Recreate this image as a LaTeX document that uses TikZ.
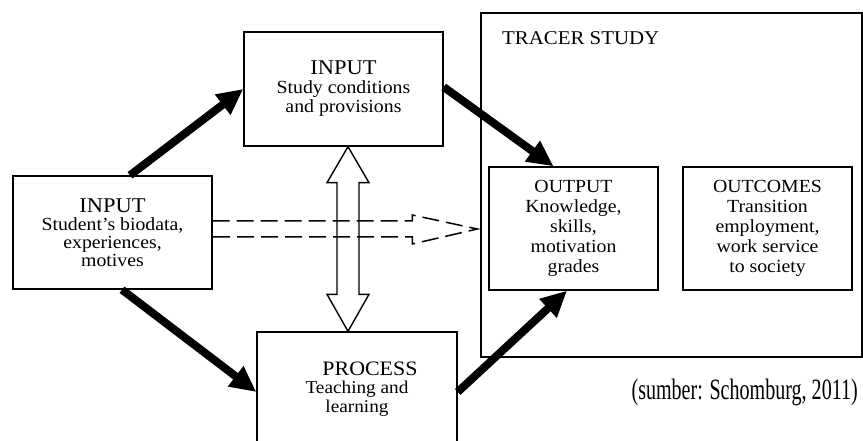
\documentclass[tikz,border=0pt]{standalone}
\usepackage{fontspec}
\setmainfont{Liberation Serif}
\newfontfamily\dfont{Liberation Serif}[FakeStretch=1.07]
\newfontfamily\srcfont{Liberation Serif}[FakeStretch=0.68]
\usetikzlibrary{arrows.meta,calc}
\begin{document}
\begin{tikzpicture}[x=1pt,y=-1pt,
  box/.style={draw, line width=1.4pt, inner sep=0pt, align=center},
  bodyfont/.style={font=\dfont\fontsize{18.5}{#1}\selectfont},
  bigarrow/.style={line width=8pt, -{Triangle[length=26pt,width=24pt]}},
  openarrow/.style={line width=1.4pt, line join=miter},
  dasharrow/.style={line width=1.5pt, dash pattern=on 17pt off 7pt}]
\useasboundingbox (0,0) rectangle (863,441);
\clip (0,0) rectangle (863,441);

% boxes
\node[box, minimum width=199pt, minimum height=113pt, bodyfont=18] (in1) at (112.5,232.5)
  {{\fontsize{21}{21}\selectfont INPUT}\\Student’s biodata,\\experiences,\\motives};
\node[box, minimum width=199pt, minimum height=114pt, bodyfont=19] (in2) at (343.5,89)
  {{\fontsize{21}{21}\selectfont INPUT}\\Study conditions\\and provisions};
\node[box, minimum width=381pt, minimum height=344pt] (trc) at (671.5,185) {};
\node[anchor=base west, inner sep=0pt, font=\dfont\fontsize{19.5}{20}\selectfont] (trct) at (502,45) {TRACER STUDY};
\node[box, minimum width=169pt, minimum height=123pt, bodyfont=20] (out) at (573.5,228.5)
  {OUTPUT\\Knowledge,\\skills,\\motivation\\grades};
\node[box, minimum width=169pt, minimum height=123pt, bodyfont=20] (ocm) at (767.5,228.5)
  {OUTCOMES\\Transition\\employment,\\work service\\to society};
\node[box, minimum width=200pt, minimum height=120pt] (proc) at (357,392) {};
\node[align=center, inner sep=0pt, font=\dfont\fontsize{18}{18.5}\selectfont] (proct) at (357,389)
  {\hspace*{26pt}{\fontsize{20.5}{20.5}\selectfont PROCESS}\\Teaching and\\learning};
\node[anchor=base east, inner sep=0pt, font=\srcfont\fontsize{29.5}{29.5}\selectfont] (src) at (858,399)
  {(sumber: Schomburg, 2011)};

% thick arrows
\draw[bigarrow] ([xshift=17.5pt]in1.north) -- (in2.west);
\draw[bigarrow] ([yshift=2pt]in2.east) -- ([xshift=-20pt]out.north);
\draw[bigarrow] ([xshift=9.5pt]in1.south) -- (proc.west);
\draw[bigarrow] (proc.east) -- ([xshift=-6.5pt]out.south);

% open double arrow
\coordinate (da1) at ([xshift=4.5pt]in2.south);
\coordinate (da2) at (da1 |- proc.north);
\draw[openarrow] (da1) -- ++(21,36) -- ++(-10,0) -- ($(da2)+(11,-37)$) -- ++(10,0) -- (da2)
  -- ++(-21,-37) -- ++(10,0) -- ($(da1)+(-11,36)$) -- ++(-10,0) -- cycle;

% dashed open arrow
\coordinate (ds) at ([yshift=3.5pt]in1.east);
\coordinate (dt) at ($(ds -| trc.west)+(-3,0)$);
\draw[dasharrow] ($(ds)+(0,-8)$) -- ($(dt)+(-65,-8)$) -- ++(0,-6) -- (dt)
  -- ($(dt)+(-65,15)$) -- ++(0,-7) -- ($(ds)+(0,8)$);
\end{tikzpicture}
\end{document}
